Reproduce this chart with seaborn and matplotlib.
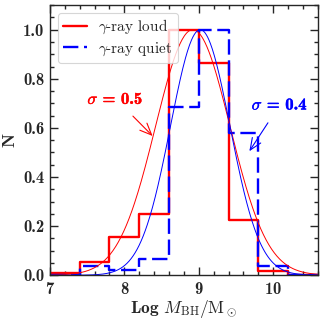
import numpy as np
import pandas as pd
import matplotlib
matplotlib.use("Agg")
import matplotlib.pyplot as plt
import matplotlib.patheffects as pe
from matplotlib.ticker import MultipleLocator
import seaborn as sns

sns.set_style("ticks")
plt.rcParams["font.family"] = ["cmb10", "DejaVu Serif"]
plt.rcParams["mathtext.fontset"] = "cm"
plt.rcParams["axes.formatter.use_mathtext"] = True
plt.rcParams["axes.unicode_minus"] = False

# ── data ─────────────────────────────────────────────────────────────────────
bin_edges = [7.0, 7.4, 7.8, 8.2, 8.6, 9.0, 9.4, 9.8, 10.2, 10.6]
bin_centers = [7.2, 7.6, 8.0, 8.4, 8.8, 9.2, 9.6, 10.0, 10.4]
loud_norm = [0.01, 0.053, 0.156, 0.249, 1.0, 0.864, 0.225, 0.018, 0.0]
quiet_norm = [0.0, 0.038, 0.023, 0.067, 0.687, 1.0, 0.579, 0.038, 0.0]

# gaussian fits (mean, sigma)
loud_fit = (8.92, 0.5)
quiet_fit = (9.02, 0.4)

RED = "#ff0000"
BLUE = "#0000ff"

df = pd.DataFrame({"center": bin_centers, "loud": loud_norm, "quiet": quiet_norm})
xg = np.linspace(7.0, 10.6, 400)
fit_loud = np.exp(-(xg - loud_fit[0]) ** 2 / (2 * loud_fit[1] ** 2))
fit_quiet = np.exp(-(xg - quiet_fit[0]) ** 2 / (2 * quiet_fit[1] ** 2))

# ── plot ─────────────────────────────────────────────────────────────────────
fig = plt.figure(figsize=(3.26, 3.2), dpi=100)
ax = fig.add_axes([0.153, 0.14, 0.822, 0.844])

sns.histplot(data=df, x="center", weights="loud", bins=bin_edges,
             element="step", fill=False, color=RED, lw=1.7, ax=ax,
             label=r"$\gamma$-ray loud")
sns.histplot(data=df, x="center", weights="quiet", bins=bin_edges,
             element="step", fill=False, color=BLUE, lw=1.7,
             linestyle=(0, (6.5, 2.4)), ax=ax, label=r"$\gamma$-ray quiet")

sns.lineplot(x=xg, y=fit_loud, color=RED, lw=0.7, ax=ax)
sns.lineplot(x=xg, y=fit_quiet, color=BLUE, lw=0.7, ax=ax)

a1 = ax.annotate(r"$\sigma$ = 0.5", xy=(8.38, 0.567), xytext=(7.88, 0.72),
                 color=RED, fontsize=12, ha="center", va="center",
                 arrowprops=dict(arrowstyle="->,head_length=0.7,head_width=0.3",
                                 color=RED, lw=0.8, shrinkA=6, shrinkB=0))
a2 = ax.annotate(r"$\sigma$ = 0.4", xy=(9.68, 0.505), xytext=(10.09, 0.695),
                 color=BLUE, fontsize=12, ha="center", va="center",
                 arrowprops=dict(arrowstyle="->,head_length=0.7,head_width=0.3",
                                 color=BLUE, lw=0.8, shrinkA=6, shrinkB=0))
for a, c in ((a1, RED), (a2, BLUE)):
    a.set_path_effects([pe.withStroke(linewidth=0.3, foreground=c)])

ax.set_xlim(7.0, 10.6)
ax.set_ylim(0.0, 1.1)
ax.xaxis.set_major_locator(MultipleLocator(1))
ax.xaxis.set_minor_locator(MultipleLocator(0.2))
ax.yaxis.set_major_locator(MultipleLocator(0.2))
ax.yaxis.set_minor_locator(MultipleLocator(0.05))
ax.yaxis.set_major_formatter(matplotlib.ticker.FormatStrFormatter("%.1f"))
ax.tick_params(which="both", direction="in", top=True, right=True,
               labelsize=12, width=1.0, pad=4)
ax.tick_params(which="major", length=6)
ax.tick_params(which="minor", length=3)
for s in ax.spines.values():
    s.set_linewidth(1.0)

ax.set_xlabel(r"Log $M_{\rm BH}/{\rm M_\odot}$", fontsize=12.5, labelpad=1)
ax.set_ylabel("N", fontsize=13, labelpad=4)

leg = ax.legend(loc="upper left", handlelength=1.6, borderaxespad=0.5,
                labelspacing=0.25, borderpad=0.35, handletextpad=0.7,
                prop={"family": "cmr10", "size": 11})
leg.get_frame().set_edgecolor("#cccccc")
leg.get_frame().set_linewidth(0.8)

fig.savefig("out.png", dpi=100)
